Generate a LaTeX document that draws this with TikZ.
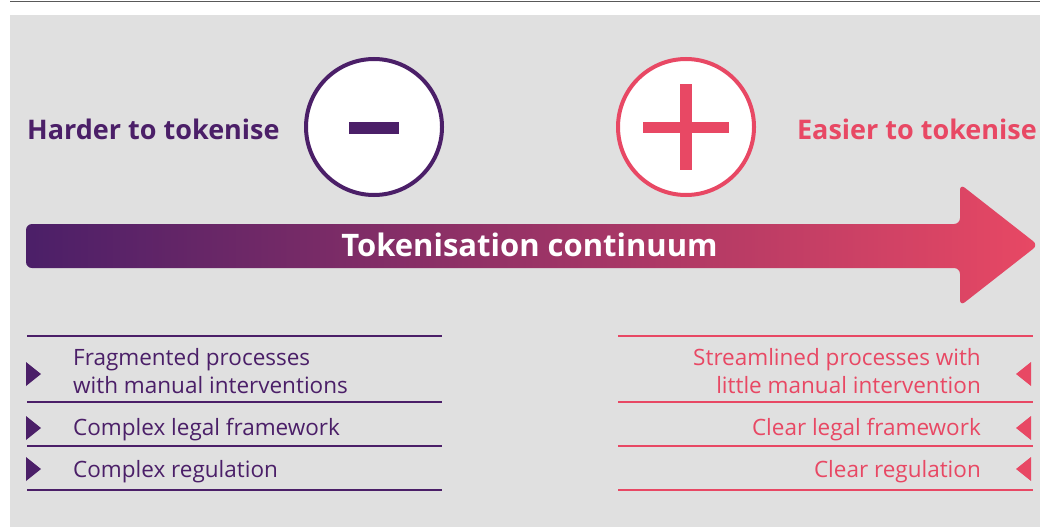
\documentclass[tikz,border=0pt]{standalone}
\usepackage{fontspec}
\setmainfont{Open Sans}
\usetikzlibrary{positioning}
\definecolor{tokpurple}{HTML}{4B1F68}
\definecolor{tokpink}{HTML}{E84864}
\definecolor{panelgrey}{HTML}{E0E0E0}
\begin{document}
\begin{tikzpicture}[x=1pt,y=-1pt,
    sign/.style={circle,draw,line width=4pt,fill=white,minimum size=136pt,inner sep=0pt},
    heading/.style={font=\bfseries\fontsize{27}{32}\selectfont,inner sep=0pt},
    item/.style={font=\fontsize{22.5}{27.5}\selectfont,inner sep=0pt},
    rule/.style={line width=2pt},
]
\useasboundingbox (0,0) rectangle (1040,527);
\fill[panelgrey] (10,15) rectangle (1040,527);
\draw[line width=1.5pt,black!65] (10,1.5) -- (1040,1.5);

% signs
\node[sign,draw=tokpurple] (minus) at (374,127) {};
\fill[tokpurple] (349,122) rectangle (399,134);
\node[sign,draw=tokpink] (plus) at (686,127) {};
\fill[tokpink] (643,122) rectangle (729,133);
\fill[tokpink] (680,84) rectangle (692,170);

\node[heading,text=tokpurple,anchor=base west] (harder) at (27,139) {Harder to tokenise};
\node[heading,text=tokpink,anchor=base east] (easier) at (1037,139) {Easier to tokenise};

% continuum arrow
\shade[left color=tokpurple,right color=tokpink,rounded corners=6pt]
    (26,224) -- (960,224) -- (960,184) -- (1038,245) -- (960,306) -- (960,268) -- (26,268) -- cycle;
\node[font=\bfseries\fontsize{31}{36}\selectfont,text=white,inner sep=0pt,anchor=base] (continuum) at (529.5,256) {Tokenisation continuum};

% lists
\foreach \y in {336,402,446,490} {
    \draw[rule,tokpurple] (27,\y) -- (442,\y);
    \draw[rule,tokpink] (618,\y) -- (1033,\y);
}
\foreach \y in {374,428,469} {
    \fill[tokpurple] (26,\y-12) -- (41,\y) -- (26,\y+12) -- cycle;
    \fill[tokpink] (1031,\y-12) -- (1016,\y) -- (1031,\y+12) -- cycle;
}
\node[item,text=tokpurple,anchor=west,align=left] (frag) at (73,371) {Fragmented processes\\with manual interventions};
\node[item,text=tokpurple,anchor=base west] (legalhard) at (73,435) {Complex legal framework};
\node[item,text=tokpurple,anchor=base west] (reghard) at (73,477) {Complex regulation};
\node[item,text=tokpink,anchor=east,align=right] (stream) at (981,371) {Streamlined processes with\\little manual intervention};
\node[item,text=tokpink,anchor=base east] (legaleasy) at (981,435) {Clear legal framework};
\node[item,text=tokpink,anchor=base east] (regeasy) at (981,477) {Clear regulation};
\end{tikzpicture}
\end{document}
